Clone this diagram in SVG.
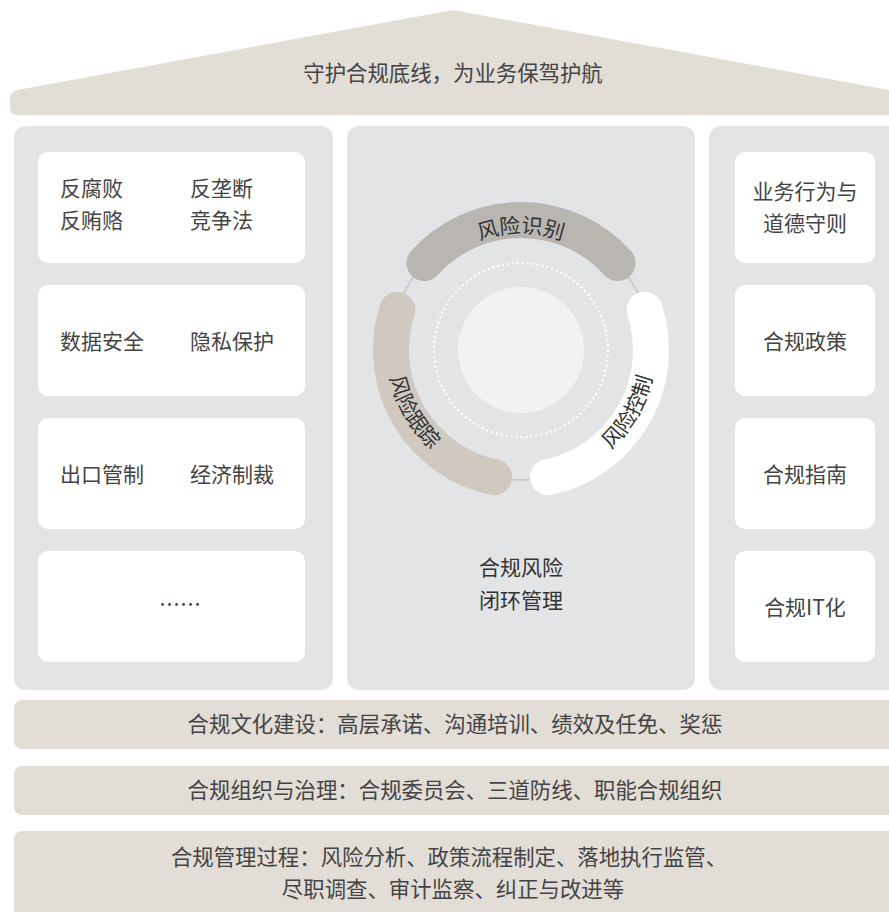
<svg xmlns="http://www.w3.org/2000/svg" width="889" height="912" viewBox="0 0 889 912">
<style>
text{font-family:"Noto Sans CJK SC","Noto Sans",sans-serif;font-size:21px;fill:#444;}
.c{text-anchor:middle;}
.big{font-size:21.4px;}
.panel{fill:#e3e4e6;}
.box{fill:#ffffff;}
.beige{fill:#e2ddd6;}
.arc{fill:none;stroke-width:36;stroke-linecap:round;}
.dark{fill:#333;}
</style>
<defs>
<path id="tpTop" d="M 404 350 A 117 117 0 0 1 638 350"/>
<path id="tpRight" d="M 521 484 A 134 134 0 0 0 637.0 283"/>
<path id="tpLeft" d="M 405.0 283 A 134 134 0 0 0 521 484"/>
</defs>
<rect width="889" height="912" fill="#ffffff"/>

<g id="roof">
<path class="beige" d="M 20 89.5 L 453 10 L 900 92 L 900 115 L 18 115 Q 10 115 10 107 L 10 99 Q 10 91.5 20 89.5 Z"/>
<text class="c big" x="453" y="81">守护合规底线，为业务保驾护航</text>
</g>

<g id="left-panel">
<rect class="panel" x="14" y="126" width="319" height="564" rx="12"/>
</g>
<g id="box-anticorruption">
<rect class="box" x="38" y="152" width="267" height="111" rx="10"/>
<text x="60" y="196">反腐败</text>
<text x="60" y="228">反贿赂</text>
<text x="190" y="196">反垄断</text>
<text x="190" y="228">竞争法</text>
</g>
<g id="box-data">
<rect class="box" x="38" y="285" width="267" height="111" rx="10"/>
<text x="60" y="349">数据安全</text>
<text x="190" y="349">隐私保护</text>
</g>
<g id="box-export">
<rect class="box" x="38" y="418" width="267" height="111" rx="10"/>
<text x="60" y="482">出口管制</text>
<text x="190" y="482">经济制裁</text>
</g>
<g id="box-more">
<rect class="box" x="38" y="551" width="267" height="111" rx="10"/>
<text class="c" x="180" y="612">……</text>
</g>

<g id="center-panel">
<rect class="panel" x="347" y="126" width="348" height="564" rx="12"/>
<circle cx="521" cy="350" r="130" fill="none" stroke="#c5c6c8" stroke-width="1.5"/>
<circle cx="521" cy="350" r="87" fill="none" stroke="#ffffff" stroke-width="2" stroke-dasharray="2 3"/>
<circle cx="521" cy="350" r="63" fill="#f1f2f4"/>
<text class="c dark" x="521" y="575">合规风险</text>
<text class="c dark" x="521" y="608">闭环管理</text>
</g>
<g id="arc-identify">
<path class="arc" stroke="#b9b6b1" d="M 424.4 263.0 A 130 130 0 0 1 617.6 263.0"/>
<text class="dark"><textPath href="#tpTop" startOffset="50%" text-anchor="middle">风险识别</textPath></text>
</g>
<g id="arc-control">
<path class="arc" stroke="#ffffff" d="M 644.6 309.8 A 130 130 0 0 1 548.0 477.2"/>
<text class="dark"><textPath href="#tpRight" startOffset="50%" text-anchor="middle">风险控制</textPath></text>
</g>
<g id="arc-track">
<path class="arc" stroke="#cfc9c0" d="M 494.0 477.2 A 130 130 0 0 1 397.4 309.8"/>
<text class="dark"><textPath href="#tpLeft" startOffset="50%" text-anchor="middle">风险跟踪</textPath></text>
</g>

<g id="right-panel">
<rect class="panel" x="709" y="126" width="200" height="564" rx="12"/>
</g>
<g id="box-conduct">
<rect class="box" x="735" y="152" width="140" height="111" rx="10"/>
<text class="c" x="805" y="199">业务行为与</text>
<text class="c" x="805" y="231">道德守则</text>
</g>
<g id="box-policy">
<rect class="box" x="735" y="285" width="140" height="111" rx="10"/>
<text class="c" x="805" y="349">合规政策</text>
</g>
<g id="box-guide">
<rect class="box" x="735" y="418" width="140" height="111" rx="10"/>
<text class="c" x="805" y="482">合规指南</text>
</g>
<g id="box-it">
<rect class="box" x="735" y="551" width="140" height="111" rx="10"/>
<text class="c" x="805" y="615">合规IT化</text>
</g>

<g id="bar-culture">
<rect class="beige" x="14" y="700" width="900" height="49" rx="8"/>
<text class="c big" x="455" y="732">合规文化建设：高层承诺、沟通培训、绩效及任免、奖惩</text>
</g>
<g id="bar-org">
<rect class="beige" x="14" y="766" width="900" height="49" rx="8"/>
<text class="c big" x="455" y="798">合规组织与治理：合规委员会、三道防线、职能合规组织</text>
</g>
<g id="bar-process">
<rect class="beige" x="14" y="831" width="900" height="90" rx="8"/>
<text class="c big" x="449" y="865">合规管理过程：风险分析、政策流程制定、落地执行监管、</text>
<text class="c big" x="453" y="897">尽职调查、审计监察、纠正与改进等</text>
</g>
<g id="connectors"></g>
</svg>
